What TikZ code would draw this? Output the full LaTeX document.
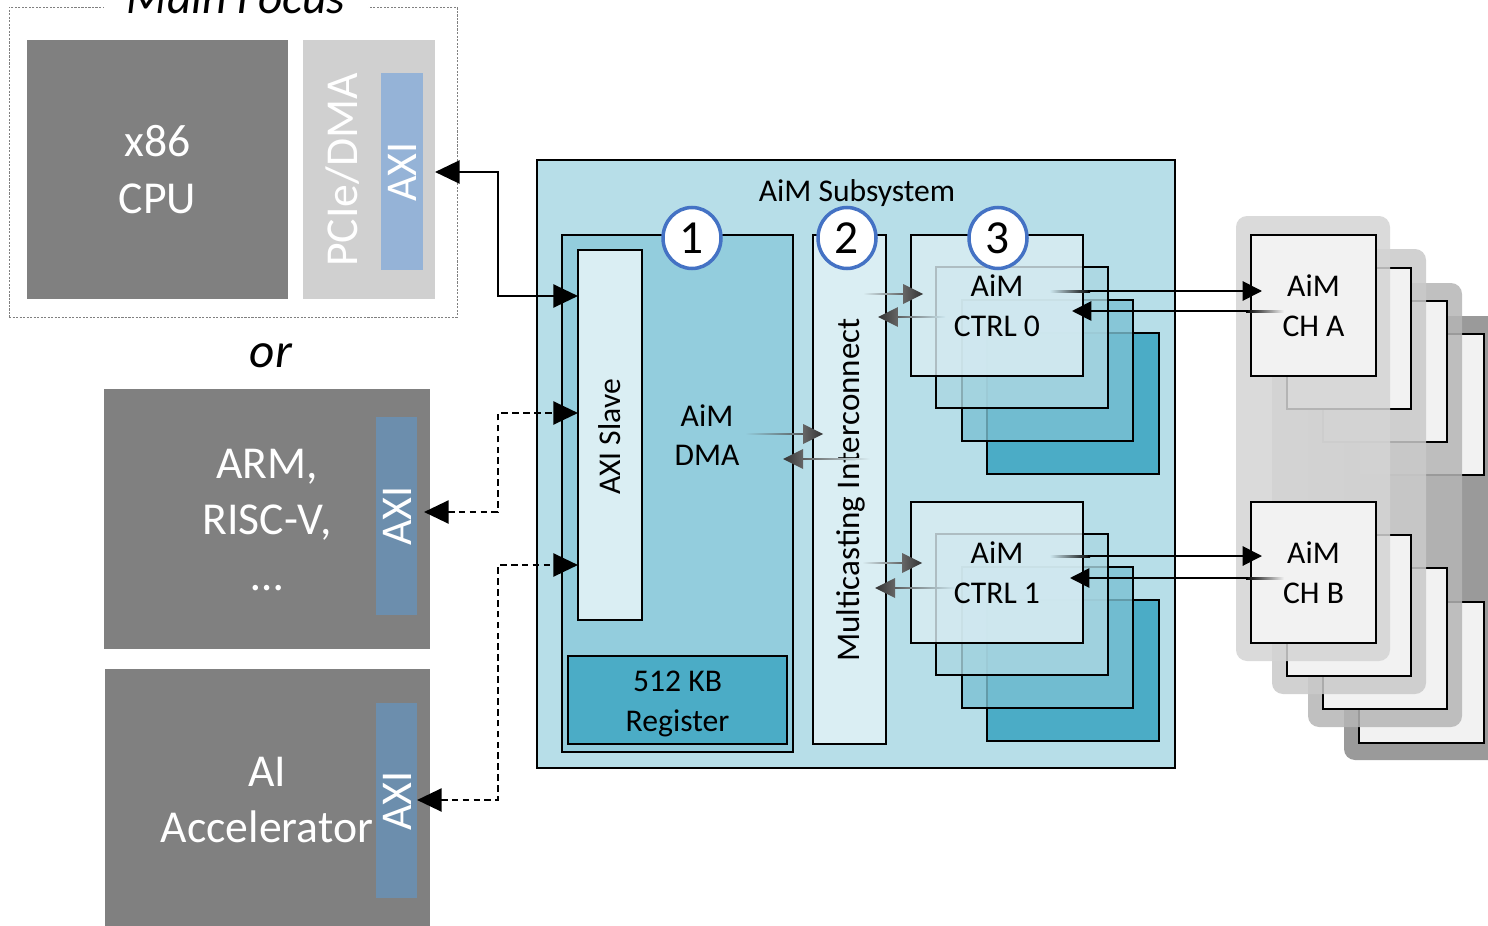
\documentclass[tikz,border=0pt]{standalone}
\usepackage{fontspec}
\setmainfont{Carlito}
\usetikzlibrary{arrows.meta,shapes.geometric,calc}
\definecolor{cpugray}{HTML}{808080}
\definecolor{pciegray}{HTML}{D0D0D0}
\definecolor{axiA}{HTML}{95B3D7}
\definecolor{axiB}{HTML}{6C8EAD}
\definecolor{subfill}{HTML}{B7DEE8}
\definecolor{dmafill}{HTML}{93CDDD}
\definecolor{palefill}{HTML}{DAEEF3}
\definecolor{regfill}{HTML}{4BACC6}
\definecolor{ctrlA}{HTML}{DAEDF3}
\definecolor{ctrlB}{HTML}{ABD7E2}
\definecolor{ctrlC}{HTML}{7BC1D3}
\definecolor{ctrlD}{HTML}{4BACC6}
\definecolor{inctrl}{HTML}{CCE6EE}
\definecolor{circblue}{HTML}{4472C4}
\definecolor{chfill}{HTML}{F2F2F2}
\definecolor{bgA}{HTML}{D4D4D4}
\definecolor{bgB}{HTML}{CACACA}
\definecolor{bgC}{HTML}{B6B6B6}
\definecolor{bgD}{HTML}{9A9A9A}
\definecolor{garr}{HTML}{555555}
\tikzset{
  plain/.style={draw=none, inner sep=0pt, outer sep=0pt},
  box/.style={draw=black, line width=1.1pt, inner sep=0pt, outer sep=0pt},
  mframe/.style={draw=gray, line width=0.5pt, dash pattern=on 1.2pt off 0.8pt, inner sep=0pt, outer sep=0pt},
  layer/.style={box, fill opacity=0.8, draw opacity=1},
  bglayer/.style={plain, rounded corners=0.22cm, fill opacity=0.85},
  wbig/.style={text=white, font=\fontsize{26}{32}\selectfont, align=center},
  waxi/.style={text=white, font=\fontsize{25}{30}\selectfont, rotate=90},
  lbl/.style={font=\fontsize{18}{22.6}\selectfont, align=center, text=black},
  num/.style={ellipse, draw=circblue, line width=2pt, fill=white, minimum width=1.16cm, minimum height=1.22cm, inner sep=0pt, font=\fontsize{27}{30}\selectfont},
  conn/.style={line width=1.6pt, {Triangle[length=14pt,width=13pt]}-{Triangle[length=14pt,width=13pt]}},
  dconn/.style={conn, dash pattern=on 3.8pt off 2.4pt},
  chline/.style={line width=1.1pt, -{Triangle[length=11pt,width=11pt]}}
}
\newcommand{\bx}[6]{\node[#2, anchor=north west, minimum width={(#5-#3)*0.02cm}, minimum height={(#6-#4)*0.02cm}] (#1) at (#3,#4) {};}
% gray faded arrows: tail x, tip x, y, background colour at tail
\newcommand{\garR}[4]{%
  \shade[left color=#4, right color=garr] (#1,#3-0.8) rectangle (#2-16,#3+0.8);
  \shade[left color=gray!80!black, right color=black!80] (#2-20,#3-10) -- (#2,#3) -- (#2-20,#3+10) -- cycle;}
\newcommand{\garL}[4]{%
  \shade[right color=#4, left color=garr] (#2+16,#3-0.8) rectangle (#1,#3+0.8);
  \shade[right color=gray!80!black, left color=black!80] (#2+20,#3-10) -- (#2,#3) -- (#2+20,#3+10) -- cycle;}
\begin{document}
\begin{tikzpicture}[x=0.02cm,y=-0.02cm]
\clip (0,0) rectangle (1488,926);
\fill[white] (0,0) rectangle (1488,926);

% ---------- Main focus ----------
\bx{mfbox}{mframe}{9}{7}{457}{317}
\node[font=\fontsize{27}{32}\selectfont\itshape, fill=white, inner xsep=13pt, inner ysep=2pt, anchor=base] (mftitle) at (236,14) {Main Focus};
\bx{cpu}{plain, fill=cpugray}{27}{40}{288}{299}
\node[wbig] (cput) at (cpu.center) {x86\\CPU};
\bx{pcie}{plain, fill=pciegray}{303}{40}{435}{299}
\node[waxi, font=\fontsize{26}{30}\selectfont] (pciet) at (343,170) {PCIe/DMA};
\bx{axi1}{plain, fill=axiA}{381}{73}{423}{270}
\node[waxi] (axi1t) at (402,172) {AXI};

\node[font=\fontsize{28}{32}\selectfont\itshape, anchor=base] (ortxt) at (271,367) {or};

% ---------- ARM ----------
\bx{arm}{plain, fill=cpugray}{104}{389}{430}{649}
\node[wbig] (armt) at (267,520) {ARM,\\RISC-V,\\…};
\bx{armaxi}{plain, fill=axiB}{376}{417}{417}{615}
\node[waxi] (armaxit) at (397,516) {AXI};

% ---------- AI accelerator ----------
\bx{ai}{plain, fill=cpugray}{105}{669}{430}{930}
\node[wbig] (ait) at (267,800) {AI\\Accelerator};
\bx{aiaxi}{plain, fill=axiB}{376}{703}{417}{898}
\node[waxi] (aiaxit) at (397,801) {AXI};

% ---------- AiM subsystem ----------
\bx{sub}{box, fill=subfill}{537}{160}{1175}{768}
\node[lbl] (subt) at (857,193) {AiM Subsystem};
\bx{dma}{box, fill=dmafill}{562}{235}{793}{752}
\bx{axs}{box, fill=palefill}{578}{250}{642}{620}
\node[lbl, rotate=90] (axst) at (610,437) {AXI Slave};
\node[lbl] (dmat) at (707,435) {AiM\\DMA};
\bx{reg}{box, fill=regfill}{568}{656}{787}{744}
\node[lbl] (regt) at (677.5,704) {512 KB\\Register};
\bx{ic}{box, fill=palefill}{813}{235}{886}{744}
\node[lbl, rotate=90, font=\fontsize{18.8}{22.6}\selectfont] (ict) at (851,490) {Multicasting Interconnect};

% CTRL 0 stack
\bx{c0d}{box, fill=ctrlD}{987}{333}{1159}{474}
\bx{c0c}{layer, fill=ctrlC}{962}{300}{1133}{441}
\bx{c0b}{layer, fill=ctrlB}{936}{267}{1108}{408}
\bx{c0a}{layer, fill=ctrlA}{911}{235}{1083}{376}
\node[lbl] (c0t) at (997,306) {AiM\\CTRL 0};
% CTRL 1 stack
\bx{c1d}{box, fill=ctrlD}{987}{600}{1159}{741}
\bx{c1c}{layer, fill=ctrlC}{962}{567}{1133}{708}
\bx{c1b}{layer, fill=ctrlB}{936}{534}{1108}{675}
\bx{c1a}{layer, fill=ctrlA}{911}{502}{1083}{643}
\node[lbl] (c1t) at (997,573) {AiM\\CTRL 1};

% numbered circles
\node[num] (n1) at (692,238) {1};
\node[num] (n2) at (847,238) {2};
\node[num] (n3) at (998,238) {3};

% internal gray arrows
\garR{745}{823}{434}{dmafill}
\garL{870}{783}{459}{palefill}
\garR{863}{923}{294}{palefill}
\garL{945}{878}{317}{inctrl}
\garR{862}{922}{563}{palefill}
\garL{955}{875}{588}{inctrl}

% ---------- AiM channels ----------
\bx{bg4}{bglayer, fill=bgD, fill opacity=1}{1344}{316}{1510}{760}
\bx{chA4}{box, fill=chfill}{1359}{334}{1484}{475}
\bx{chB4}{box, fill=chfill}{1359}{602}{1484}{743}
\bx{bg3}{bglayer, fill=bgC}{1308}{283}{1462}{727}
\bx{chA3}{box, fill=chfill}{1323}{301}{1447}{442}
\bx{chB3}{box, fill=chfill}{1323}{568}{1447}{709}
\bx{bg2}{bglayer, fill=bgB}{1272}{249}{1426}{694}
\bx{chA2}{box, fill=chfill}{1287}{268}{1411}{409}
\bx{chB2}{box, fill=chfill}{1287}{535}{1411}{676}
\bx{bg1}{bglayer, fill=bgA}{1236}{216}{1390}{661}
\bx{chA}{box, fill=chfill}{1251}{235}{1376}{376}
\bx{chB}{box, fill=chfill}{1251}{502}{1376}{643}
\node[lbl] (chAt) at (chA.center) {AiM\\CH A};
\node[lbl] (chBt) at (chB.center) {AiM\\CH B};

% CTRL <-> CH connectors
\coordinate (a0s) at (1088,291);
\coordinate (a0r) at (1248,311);
\coordinate (a1s) at (1088,556);
\coordinate (a1r) at (1248,578);
\shade[left color=inctrl, right color=black] (1050,290) rectangle (1090,292);
\draw[chline] (a0s) -- ($(chA.west |- a0s)+(11,0)$);
\shade[left color=black, right color=chfill] (1246,310) rectangle (1284,312);
\draw[chline] (a0r) -- ($(c0a.east |- a0r)+(-11,0)$);
\shade[left color=inctrl, right color=black] (1050,555) rectangle (1090,557);
\draw[chline] (a1s) -- ($(chB.west |- a1s)+(11,0)$);
\shade[left color=black, right color=chfill] (1246,577) rectangle (1284,579);
\draw[chline] (a1r) -- ($(c1a.east |- a1r)+(-13,0)$);

% ---------- AXI connectors ----------
\coordinate (j1) at (498,172);
\coordinate (j2) at (498,296);
\coordinate (j3) at (498,512);
\coordinate (j4) at (498,413);
\coordinate (j5) at (498,800);
\coordinate (j6) at (498,565);
\draw[conn] (pcie.east |- j1) -- (j1) -- (j2) -- (axs.west |- j2);
\draw[dconn] ($(armaxi.east |- j3)+(7,0)$) -- (j3) -- (j4) -- (axs.west |- j4);
\draw[dconn] (aiaxi.east |- j5) -- (j5) -- (j6) -- (axs.west |- j6);
\end{tikzpicture}
\end{document}
